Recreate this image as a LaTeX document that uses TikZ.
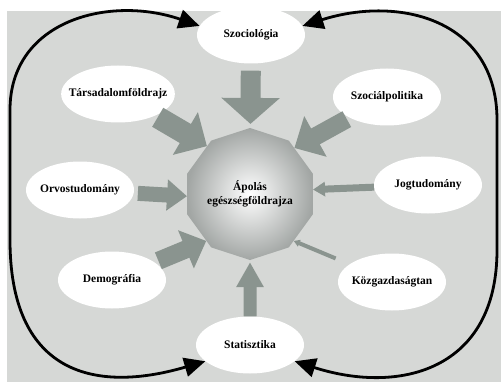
\documentclass[tikz,border=0pt]{standalone}
\usepackage{fontspec}
\setmainfont{Liberation Serif}
\usetikzlibrary{arrows.meta,shapes.geometric}
\definecolor{paper}{HTML}{D6D8D6}
\definecolor{feedgray}{HTML}{8A948F}
\definecolor{hubedge}{HTML}{A2A6A4}
\tikzset{sc/.style={x=1pt,y=-1pt,font=\bfseries\fontsize{11.5}{14}\selectfont},
  bubble/.style={ellipse,fill=white,minimum width=108pt,minimum height=57pt,inner xsep=-9pt,inner ysep=0pt},
  hub/.style={regular polygon,regular polygon sides=10,shape border rotate=18,minimum size=132pt,inner sep=0pt,shading=radial,inner color=white,outer color=hubedge,align=center},
  feed/.style n args={3}{draw=feedgray,line width=#1,-{Triangle[width=#2,length=#3]}},
  backarc/.style={line width=2.8pt,{Triangle[width=19pt,length=21pt]}-{Triangle[width=19pt,length=21pt]}}}

\begin{document}
\begin{tikzpicture}[sc]
  \useasboundingbox (0,0) rectangle (502,382);
  \fill[paper] (7,11) rectangle (501,382);
  \node[hub] (apolas) at (250,194) {Ápolás\\egészségföldrajza};
  \node[bubble] (szoc) at (251,35) {Szociológia};
  \node[bubble] (tars) at (118,94) {Társadalomföldrajz};
  \node[bubble] (szpol) at (387,97) {Szociálpolitika};
  \node[bubble] (orvos) at (80,190) {Orvostudomány};
  \node[bubble] (jog) at (428,185) {Jogtudomány};
  \node[bubble] (demo) at (112,280) {Demográfia};
  \node[bubble] (kozg) at (392,282) {Közgazdaságtan};
  \node[bubble] (stat) at (250,345) {Statisztika};
  % feeding arrows
  \draw[feed={20pt}{57pt}{26pt},shorten <=7pt,shorten >=4pt] (szoc) -- (apolas);
  \draw[feed={22pt}{48pt}{25pt},shorten <=3pt] (tars) -- (apolas.132);
  \draw[feed={18pt}{45pt}{24pt},shorten <=3pt] (szpol) -- (apolas.46);
  \draw[feed={15pt}{30pt}{20pt},shorten <=4pt] (orvos) -- (apolas.182);
  \draw[feed={7pt}{14pt}{12pt}] (jog) -- (apolas.4);
  \draw[feed={18pt}{40pt}{22pt},shorten <=4pt] (demo) -- (apolas.227);
  \draw[feed={4pt}{7pt}{6pt},shorten <=15pt] (kozg) -- (apolas.313);
  \draw[feed={13pt}{26pt}{25pt},shorten >=2pt] (stat) -- (apolas);
  % back arcs
  \draw[backarc] (stat.200) .. controls (90,395) and (10,370) .. (10,240) -- (10,110) .. controls (10,20) and (110,-5) .. (szoc.170);
  \draw[backarc] (szoc.10) .. controls (400,-5) and (497,20) .. (497,120) -- (497,250) .. controls (497,370) and (400,395) .. (stat.340);
\end{tikzpicture}
\end{document}
